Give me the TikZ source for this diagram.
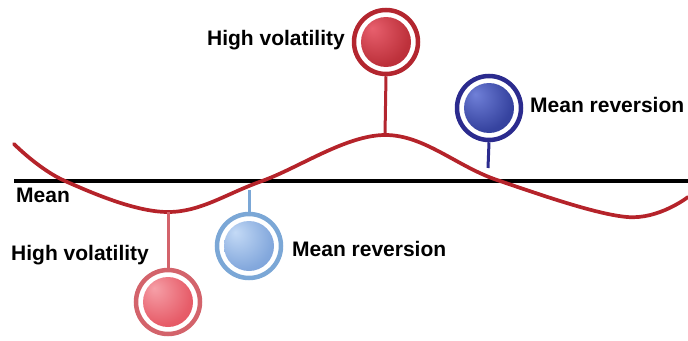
\documentclass[tikz,border=0pt]{standalone}
\usepackage{fontspec}
\setmainfont{Liberation Sans}
\usetikzlibrary{calc}
\definecolor{wavered}{HTML}{B5232A}
\definecolor{ringred}{HTML}{B3262F}
\definecolor{redlight}{HTML}{E8606E}
\definecolor{reddark}{HTML}{B0182A}
\definecolor{ringnavy}{HTML}{2B2B8E}
\definecolor{navylight}{HTML}{7080D8}
\definecolor{navydark}{HTML}{1E2A88}
\definecolor{ringsky}{HTML}{7BA7D6}
\definecolor{skylight}{HTML}{C4DAF6}
\definecolor{skydark}{HTML}{5A88CC}
\definecolor{ringpink}{HTML}{D3636B}
\definecolor{pinklight}{HTML}{F6A0A8}
\definecolor{pinkdark}{HTML}{E0404E}
\pgfdeclareradialshading{redball}{\pgfpoint{-14bp}{14bp}}{color(0bp)=(redlight); color(30bp)=(ringred!80!redlight); color(65bp)=(reddark)}
\pgfdeclareradialshading{navyball}{\pgfpoint{-14bp}{14bp}}{color(0bp)=(navylight); color(30bp)=(navydark!70!navylight); color(65bp)=(navydark)}
\pgfdeclareradialshading{skyball}{\pgfpoint{-14bp}{14bp}}{color(0bp)=(skylight); color(30bp)=(skydark!60!skylight); color(65bp)=(skydark)}
\pgfdeclareradialshading{pinkball}{\pgfpoint{-14bp}{14bp}}{color(0bp)=(pinklight); color(30bp)=(pinkdark!70!pinklight); color(65bp)=(pinkdark)}
\tikzset{
  ring/.style={circle, draw=#1, line width=4.5pt, minimum size=64pt, inner sep=0pt},
  disc/.style={circle, shading=#1, minimum size=50pt, inner sep=0pt},
  stem/.style={draw=#1, line width=3pt},
  lbl/.style={font=\fontsize{21}{25}\selectfont\bfseries, inner sep=0pt, text=black},
}
\begin{document}
\begin{tikzpicture}[x=1pt,y=-1pt]
\useasboundingbox (0,0) rectangle (688,340);
% mean line
\coordinate (mL) at (14,181);
\coordinate (mR) at (688,181);
\draw[black, line width=4.5pt] (mL) -- (mR);
% wave
\draw[wavered, line width=3.7pt, line cap=round] plot[smooth, tension=0.6] coordinates
  {(14,144) (65,181) (168,212) (262,181) (385,135) (497,180) (627,217) (688,197)};
% wave attachment points
\coordinate (w1) at (385,135);
\coordinate (w2) at (488,168);
\coordinate (w3) at (249,190);
\coordinate (w4) at (168,212);
% circles
\node[ring=ringred] (c1) at (386,42) {};
\node[disc=redball] (d1) at (c1) {};
\node[ring=ringnavy] (c2) at (489,108) {};
\node[disc=navyball] (d2) at (c2) {};
\node[ring=ringsky] (c3) at (249,246) {};
\node[disc=skyball] (d3) at (c3) {};
\node[ring=ringpink] (c4) at (168,302) {};
\node[disc=pinkball] (d4) at (c4) {};
% stems
\draw[stem=ringred] (c1.south) -- (w1);
\draw[stem=ringnavy] (c2.south) -- (w2);
\draw[stem=ringsky] (c3.north) -- (w3);
\draw[stem=ringpink] (c4.north) -- (w4);
% labels
\node[lbl, anchor=base east] (t1) at (345,45) {High volatility};
\node[lbl, anchor=base west] (t2) at (530,112) {Mean reversion};
\node[lbl, anchor=base west] (t3) at (292,256) {Mean reversion};
\node[lbl, anchor=base west] (t4) at (11,260) {High volatility};
\node[lbl, anchor=base west] (t5) at (16,202) {Mean};
\end{tikzpicture}
\end{document}
